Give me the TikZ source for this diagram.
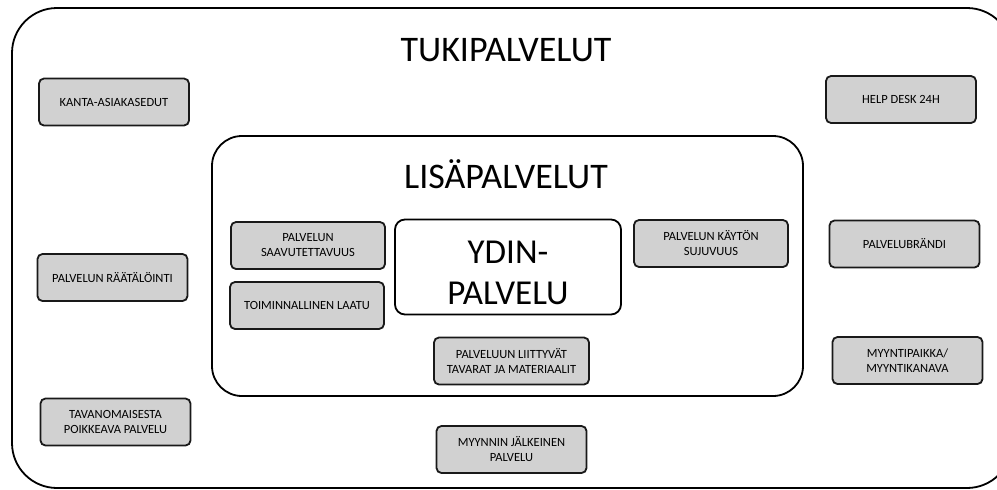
\documentclass[tikz,border=0pt]{standalone}
\usepackage{fontspec}
\setmainfont{Carlito}
\begin{document}
\begin{tikzpicture}[x=1pt, y=-1pt,
    lisa/.style={draw=black!90, line width=1.8pt, rounded corners=5pt, fill=black!18,
        minimum width=150pt, minimum height=47pt, inner sep=2pt, align=center,
        font=\fontsize{12.5}{15}\selectfont},
    otsikko/.style={font=\fontsize{36}{40}\selectfont}]
    \useasboundingbox (0,0) rectangle (997,490);
    \clip (0,0) rectangle (997,490);

    % kehykset
    \draw[line width=1.8pt, rounded corners=45pt] (12,8) rectangle (1012,488);
    \draw[line width=1.8pt, rounded corners=30pt] (212,136) rectangle (803,396);

    \node[otsikko] (tuki) at (506,50) {TUKIPALVELUT};
    \node[otsikko] (lisa) at (506,174) {LISÄPALVELUT};

    % ydinpalvelu
    \node[draw, line width=1.8pt, rounded corners=10pt, fill=white, minimum width=226pt,
        minimum height=95pt] (ydin) at (508,267) {};
    \node[align=center, font=\fontsize{35}{41}\selectfont, yshift=-6pt]
        (ydinteksti) at (ydin.center) {YDIN-\\PALVELU};

    % lisäpalvelut
    \node[lisa, minimum width=154pt] (saavu) at (308,245.5) {PALVELUN\\SAAVUTETTAVUUS};
    \node[lisa, minimum width=154pt] (laatu) at (307,305.5) {TOIMINNALLINEN LAATU};
    \node[lisa, minimum width=154pt] (kaytto) at (711,243.5) {PALVELUN KÄYTÖN\\SUJUVUUS};
    \node[lisa, minimum width=155pt] (tavarat) at (511.5,361) {PALVELUUN LIITTYVÄT\\TAVARAT JA MATERIAALIT};

    % tukipalvelut
    \node[lisa] (kanta) at (114,102) {KANTA-ASIAKASEDUT};
    \node[lisa] (help) at (901,99.5) {HELP DESK 24H};
    \node[lisa] (raata) at (112.5,277.5) {PALVELUN RÄÄTÄLÖINTI};
    \node[lisa] (brandi) at (904.5,244) {PALVELUBRÄNDI};
    \node[lisa] (myynti) at (907.5,360.5) {MYYNTIPAIKKA/\\MYYNTIKANAVA};
    \node[lisa] (poikkeava) at (115.5,422) {TAVANOMAISESTA\\POIKKEAVA PALVELU};
    \node[lisa] (jalkeen) at (511.5,449.5) {MYYNNIN JÄLKEINEN\\PALVELU};
\end{tikzpicture}
\end{document}
